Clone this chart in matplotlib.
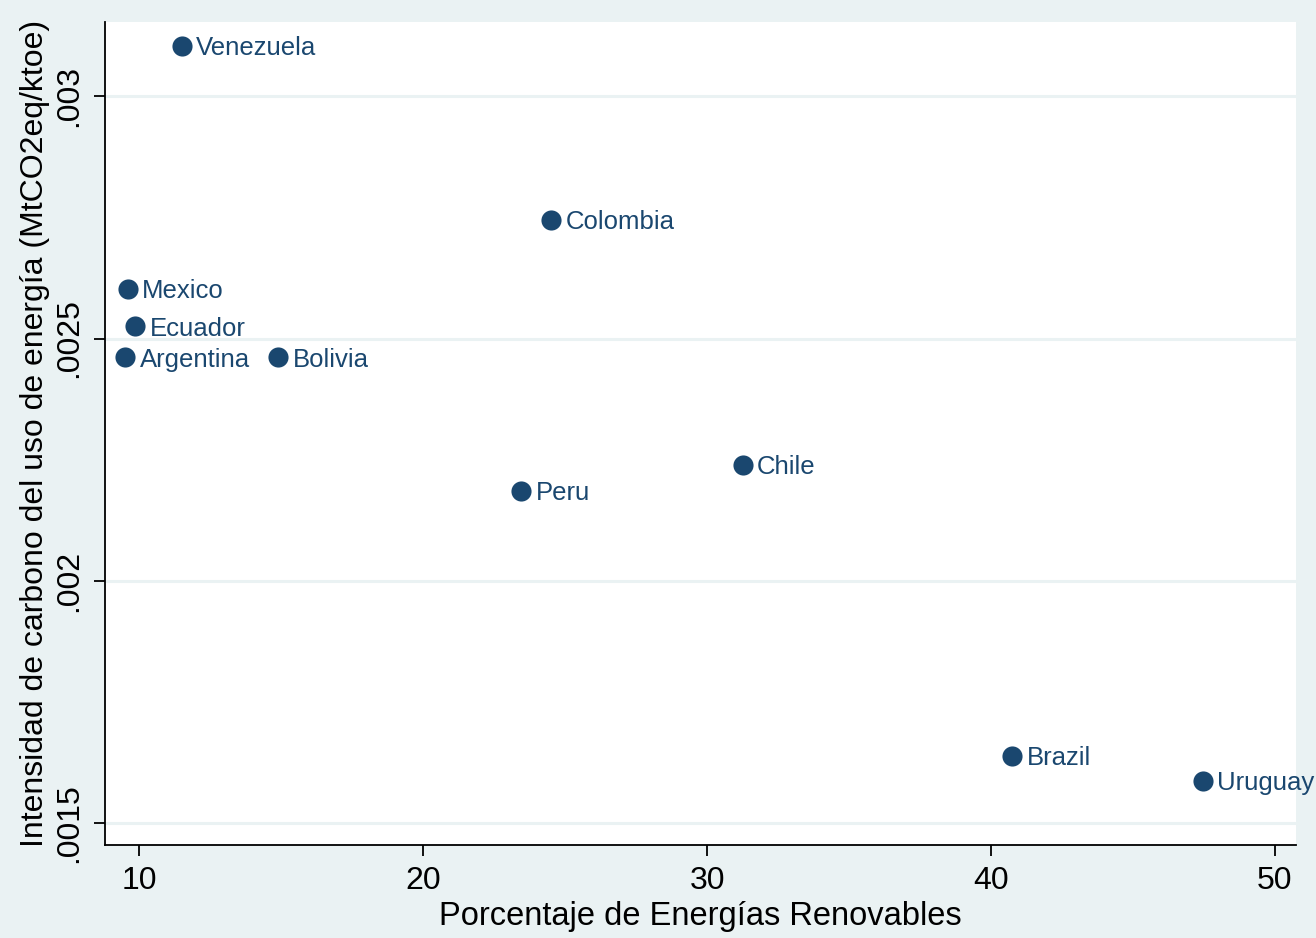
import matplotlib
matplotlib.use("Agg")
import matplotlib.pyplot as plt

countries = ["Venezuela", "Colombia", "Mexico", "Ecuador", "Argentina",
             "Bolivia", "Peru", "Chile", "Brazil", "Uruguay"]
renewables = [11.5, 24.5, 9.6, 9.85, 9.5, 14.9, 23.45, 31.25, 40.75, 47.45]
intensity = [0.003103, 0.002744, 0.002602, 0.002525, 0.002461,
             0.002461, 0.002185, 0.002239, 0.001638, 0.001587]

x_ticks = [10, 20, 30, 40, 50]
y_ticks = [0.0015, 0.002, 0.0025, 0.003]
y_tick_labels = [".0015", ".002", ".0025", ".003"]

navy = "#1A476F"
bg = "#EAF2F3"

plt.rcParams["font.family"] = ["Liberation Sans", "DejaVu Sans"]

fig = plt.figure(figsize=(13.16, 9.38), dpi=100, facecolor=bg)
ax = fig.add_axes([0.0798, 0.0991, 0.905, 0.8774])
ax.set_facecolor("white")

ax.set_xlim(8.8, 50.74)
ax.set_ylim(0.001455, 0.003153)

for yt in y_ticks:
    ax.axhline(yt, color=bg, lw=2.2, zorder=0)

ax.scatter(renewables, intensity, s=210, color=navy, zorder=3, linewidths=0)
for name, xv, yv in zip(countries, renewables, intensity):
    ax.annotate(name, (xv, yv), xytext=(10.5, -1.5), textcoords="offset points",
                ha="left", va="center", fontsize=18.5, color=navy, zorder=4)

ax.set_xticks(x_ticks)
ax.set_xticklabels([str(t) for t in x_ticks])
ax.set_yticks(y_ticks)
ax.set_yticklabels(y_tick_labels, rotation=90, va="center")

for side in ("top", "right"):
    ax.spines[side].set_visible(False)
for side in ("left", "bottom"):
    ax.spines[side].set_color("black")
    ax.spines[side].set_linewidth(1.3)

ax.tick_params(axis="both", direction="out", length=8, width=1.3,
               labelsize=23, colors="black", pad=7)

ax.set_xlabel("Porcentaje de Energías Renovables", fontsize=23.5, labelpad=4)
ax.set_ylabel("Intensidad de carbono del uso de energía (MtCO2eq/ktoe)",
              fontsize=23, labelpad=3)

fig.savefig("out.png", dpi=100, facecolor=bg)
